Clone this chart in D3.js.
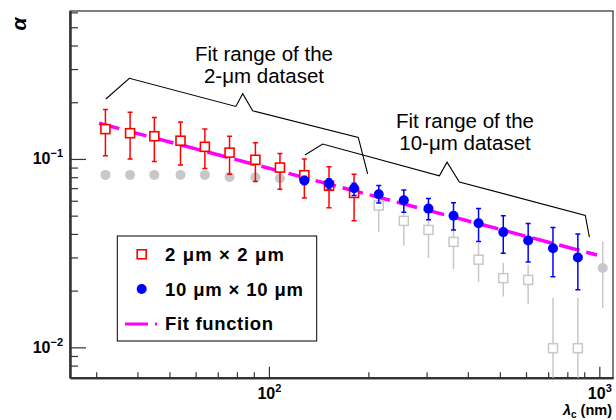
<!DOCTYPE html>
<html>
<head>
<meta charset="utf-8">
<script src="https://cdn.jsdelivr.net/npm/d3@7"></script>
<style>
  body { margin: 0; background: #fff; }
  svg { display: block; font-family: "Liberation Sans", Arial, sans-serif; }
</style>
</head>
<body>
<div class="chart"></div>
<script>
// 2 um x 2 um dataset, inside fit range
const lambda2 = [32, 38, 45, 54, 64, 76, 91, 108, 128, 152, 181];
const alpha2 = [0.144, 0.137, 0.132, 0.125, 0.116, 0.108, 0.099, 0.090, 0.082, 0.072, 0.066];
const alpha2Hi = [0.183, 0.177, 0.166, 0.157, 0.144, 0.132, 0.122, 0.107, 0.100, 0.091, 0.083];
const alpha2Lo = [0.104, 0.100, 0.097, 0.093, 0.089, 0.083, 0.076, 0.069, 0.062, 0.055, 0.047];

// 2 um dataset, outside fit range (grey squares)
const lambda2Out = [215, 256, 304, 362, 431, 512, 609, 724, 861];
const alpha2Out = [0.0566, 0.0469, 0.0420, 0.0363, 0.0292, 0.0233, 0.0228, 0.0099, 0.0099];
const alpha2OutHi = [0.072, 0.064, 0.059, 0.051, 0.0358, 0.0280, 0.0274, 0.0183, 0.0183];
const alpha2OutLo = [0.041, 0.0346, 0.0298, 0.0260, 0.0222, 0.0186, 0.0170, 0.001, 0.001];

// 10 um x 10 um dataset, inside fit range
const lambda10 = [128, 152, 181, 215, 256, 304, 362, 431, 512, 609, 724, 861];
const alpha10 = [0.0769, 0.0740, 0.0699, 0.0650, 0.0604, 0.0545, 0.0499, 0.0456, 0.0409, 0.0369, 0.0336, 0.0300];
const alpha10Hi = [0.0808, 0.0786, 0.0743, 0.0722, 0.0685, 0.0617, 0.0585, 0.0545, 0.0499, 0.0454, 0.0433, 0.0400];
const alpha10Lo = [0.0732, 0.0693, 0.0639, 0.0583, 0.0522, 0.0475, 0.0420, 0.0365, 0.0316, 0.0284, 0.0237, 0.0202];

// 10 um dataset, outside fit range (grey circles)
const lambda10Out = [32, 38, 45, 54, 64, 76, 91, 108, 1024];
const alpha10Out = [0.0823, 0.0823, 0.0823, 0.0823, 0.0823, 0.0803, 0.0800, 0.0790, 0.0264];
const alpha10OutHi = [null, null, null, null, null, null, null, null, 0.0365];
const alpha10OutLo = [null, null, null, null, null, null, null, null, 0.0162];

// fit function (power law -> straight line on log-log), end points
const fitLambda = [30.6, 984];
const fitAlpha = [0.1546, 0.0309];

// annotation braces, in data coordinates [lambda, alpha]
const brace2um = [[32.1, 0.208], [37.8, 0.268], [79.4, 0.190], [83.3, 0.222], [89.3, 0.180], [186.4, 0.130], [199, 0.0833]];
const brace10um = [[128.6, 0.105], [145.4, 0.120], [328, 0.0813], [346, 0.0961], [377, 0.0755], [907, 0.0501], [933, 0.0385]];

const xMajor = [100, 1000];
const xMinor = [30, 40, 50, 60, 70, 80, 90, 200, 300, 400, 500, 600, 700, 800, 900];
const yMajor = [0.01, 0.1];
const yMinor = [0.008, 0.009, 0.02, 0.03, 0.04, 0.05, 0.06, 0.07, 0.08, 0.09, 0.2, 0.3, 0.4, 0.5, 0.6];
const xTickLabels = ["2", "3"];
const yTickLabels = ["\u22122", "\u22121"];

const width = 616, height = 420,
    margin = ({ top: 11, right: 3, bottom: 42.3, left: 70 });

const x = d3.scaleLog()
    .domain([25, 1100])
    .range([margin.left, width - margin.right]);

const y = d3.scaleLog()
    .domain([0.0069, 0.61])
    .range([height - margin.bottom, margin.top]);

const RED = "#ff0000", BLUE = "#0000ff", GREY = "#c8c8c8", MAG = "#ff00ff";

const svg = d3.select(".chart").append("svg")
    .attr("width", width)
    .attr("height", height);

svg.append("defs").append("clipPath").attr("id", "clip")
    .append("rect")
    .attr("x", margin.left).attr("y", margin.top)
    .attr("width", width - margin.left - margin.right)
    .attr("height", height - margin.top - margin.bottom);

// frame
svg.append("rect")
    .attr("x", margin.left).attr("y", margin.top)
    .attr("width", width - margin.left - margin.right)
    .attr("height", height - margin.top - margin.bottom)
    .attr("fill", "none").attr("stroke", "#000").attr("stroke-width", 1);

// axes: minor and major ticks, pointing inward
const yMinorAxis = svg.append("g")
    .attr("transform", `translate(${margin.left},0)`)
    .call(d3.axisLeft(y).tickValues(yMinor).tickSize(-8).tickSizeOuter(0).tickFormat(""));
const yMajorAxis = svg.append("g")
    .attr("transform", `translate(${margin.left},0)`)
    .call(d3.axisLeft(y).tickValues(yMajor).tickSize(-16).tickSizeOuter(0).tickPadding(7)
        .tickFormat((d, i) => i));
const xMinorAxis = svg.append("g")
    .attr("transform", `translate(0,${height - margin.bottom})`)
    .call(d3.axisBottom(x).tickValues(xMinor).tickSize(-5.5).tickSizeOuter(0).tickFormat(""));
const xMajorAxis = svg.append("g")
    .attr("transform", `translate(0,${height - margin.bottom})`)
    .call(d3.axisBottom(x).tickValues(xMajor).tickSize(-11).tickSizeOuter(0).tickPadding(0)
        .tickFormat((d, i) => i));

svg.selectAll(".tick line").attr("stroke", "#333").attr("stroke-width", 1.2);
svg.selectAll(".domain").attr("stroke", "#333").attr("stroke-width", 2);

function powerLabel(sel, exps) {
    sel.selectAll(".tick text").each(function(d, i) {
        const t = d3.select(this);
        const e = exps[i];
        t.text(null)
            .attr("font-family", "Liberation Sans, Arial, sans-serif")
            .attr("font-weight", "bold")
            .attr("font-size", 16)
            .attr("fill", "#000");
        t.append("tspan").text("10");
        t.append("tspan").attr("font-size", 11).attr("dy", -7).text(e);
    });
}
powerLabel(yMajorAxis, yTickLabels);
powerLabel(xMajorAxis, xTickLabels);
yMajorAxis.selectAll(".tick text").attr("dy", "0.3em");
xMajorAxis.selectAll(".tick text").attr("dy", 0).attr("y", 21.5);

// axis titles
svg.append("text")
    .attr("transform", "translate(26,24) rotate(-90)")
    .attr("text-anchor", "middle")
    .attr("font-size", 21)
    .attr("font-weight", "bold")
    .attr("font-style", "italic")
    .text("\u03b1");

const xTitle = svg.append("text")
    .attr("x", 612).attr("y", 415)
    .attr("text-anchor", "end")
    .attr("font-size", 14.5)
    .attr("font-weight", "bold");
xTitle.append("tspan").attr("font-style", "italic").text("\u03bb");
xTitle.append("tspan").attr("font-size", 10).attr("dy", 3).text("c");
xTitle.append("tspan").attr("dy", -3).text(" (nm)");

const plot = svg.append("g").attr("clip-path", "url(#clip)");

function errorBars(g, xs, vs, hi, lo, color, cap) {
    const idx = d3.range(xs.length).filter(i => hi[i] != null);
    g.append("g")
        .attr("stroke", color).attr("stroke-width", 1.5).attr("fill", "none")
        .selectAll("path")
        .data(idx)
        .join("path")
        .attr("d", i => {
            const cx = x(xs[i]);
            let p = `M${cx},${y(hi[i])}V${y(Math.max(lo[i], 0.0005))}`;
            if (cap) p += `M${cx - cap},${y(hi[i])}h${2 * cap}M${cx - cap},${y(lo[i])}h${2 * cap}`;
            return p;
        });
}

// grey (out of fit range) points
errorBars(plot, lambda10Out, alpha10Out, alpha10OutHi, alpha10OutLo, GREY, 0);
plot.append("g").selectAll("circle")
    .data(d3.range(lambda10Out.length))
    .join("circle")
    .attr("cx", i => x(lambda10Out[i]))
    .attr("cy", i => y(alpha10Out[i]))
    .attr("r", 5)
    .attr("fill", GREY);

errorBars(plot, lambda2Out, alpha2Out, alpha2OutHi, alpha2OutLo, GREY, 0);
plot.append("g").selectAll("rect")
    .data(d3.range(lambda2Out.length))
    .join("rect")
    .attr("x", i => x(lambda2Out[i]) - 4.5)
    .attr("y", i => y(alpha2Out[i]) - 4.5)
    .attr("width", 9).attr("height", 9)
    .attr("fill", "#fff").attr("stroke", GREY).attr("stroke-width", 1.5);

// fit function
plot.append("path")
    .attr("d", d3.line()(fitLambda.map((l, i) => [x(l), y(fitAlpha[i])])))
    .attr("stroke", MAG).attr("stroke-width", 3.5)
    .attr("stroke-dasharray", "21,7")
    .attr("fill", "none");

// 2 um
errorBars(plot, lambda2, alpha2, alpha2Hi, alpha2Lo, RED, 2.5);
plot.append("g").selectAll("rect")
    .data(d3.range(lambda2.length))
    .join("rect")
    .attr("x", i => x(lambda2[i]) - 4.5)
    .attr("y", i => y(alpha2[i]) - 4.5)
    .attr("width", 9).attr("height", 9)
    .attr("fill", "#fff").attr("stroke", RED).attr("stroke-width", 1.6);

// 10 um
errorBars(plot, lambda10, alpha10, alpha10Hi, alpha10Lo, BLUE, 2.5);
plot.append("g").selectAll("circle")
    .data(d3.range(lambda10.length))
    .join("circle")
    .attr("cx", i => x(lambda10[i]))
    .attr("cy", i => y(alpha10[i]))
    .attr("r", 5)
    .attr("fill", BLUE);

// braces + annotation texts
[brace2um, brace10um].forEach(b => {
    svg.append("path")
        .attr("d", d3.line()(b.map(p => [x(p[0]), y(p[1])])))
        .attr("fill", "none").attr("stroke", "#000").attr("stroke-width", 1.1);
});

function annotate(cx, y0, lines) {
    const t = svg.append("text")
        .attr("text-anchor", "middle")
        .attr("font-size", 20.5)
        .attr("fill", "#000");
    lines.forEach((s, i) => {
        t.append("tspan").attr("x", cx).attr("y", y0 + i * 22.7).text(s);
    });
}
annotate(264, 60.7, ["Fit range of the", "2-\u03bcm dataset"]);
annotate(465, 127.7, ["Fit range of the", "10-\u03bcm dataset"]);

// legend
const lg = svg.append("g");
lg.append("rect")
    .attr("x", 117.3).attr("y", 236)
    .attr("width", 199.4).attr("height", 105)
    .attr("fill", "#fff").attr("stroke", "#000").attr("stroke-width", 1);
lg.append("rect")
    .attr("x", 137.2).attr("y", 249.8).attr("width", 9).attr("height", 9)
    .attr("fill", "#fff").attr("stroke", RED).attr("stroke-width", 1.6);
lg.append("circle")
    .attr("cx", 141.7).attr("cy", 289).attr("r", 5).attr("fill", BLUE);
lg.append("line")
    .attr("x1", 125).attr("x2", 157).attr("y1", 324).attr("y2", 324)
    .attr("stroke", MAG).attr("stroke-width", 3).attr("stroke-dasharray", "23,7");
const legendText = [
    ["2 \u03bcm \u00d7 2 \u03bcm", 261, 119],
    ["10 \u03bcm \u00d7 10 \u03bcm", 295.7, 138],
    ["Fit function", 330, 108]
];
legendText.forEach(d => {
    lg.append("text")
        .attr("x", 165).attr("y", d[1])
        .attr("font-size", 18.5).attr("font-weight", "bold")
        .attr("textLength", d[2]).attr("lengthAdjust", "spacing")
        .text(d[0]);
});
</script>
</body>
</html>
